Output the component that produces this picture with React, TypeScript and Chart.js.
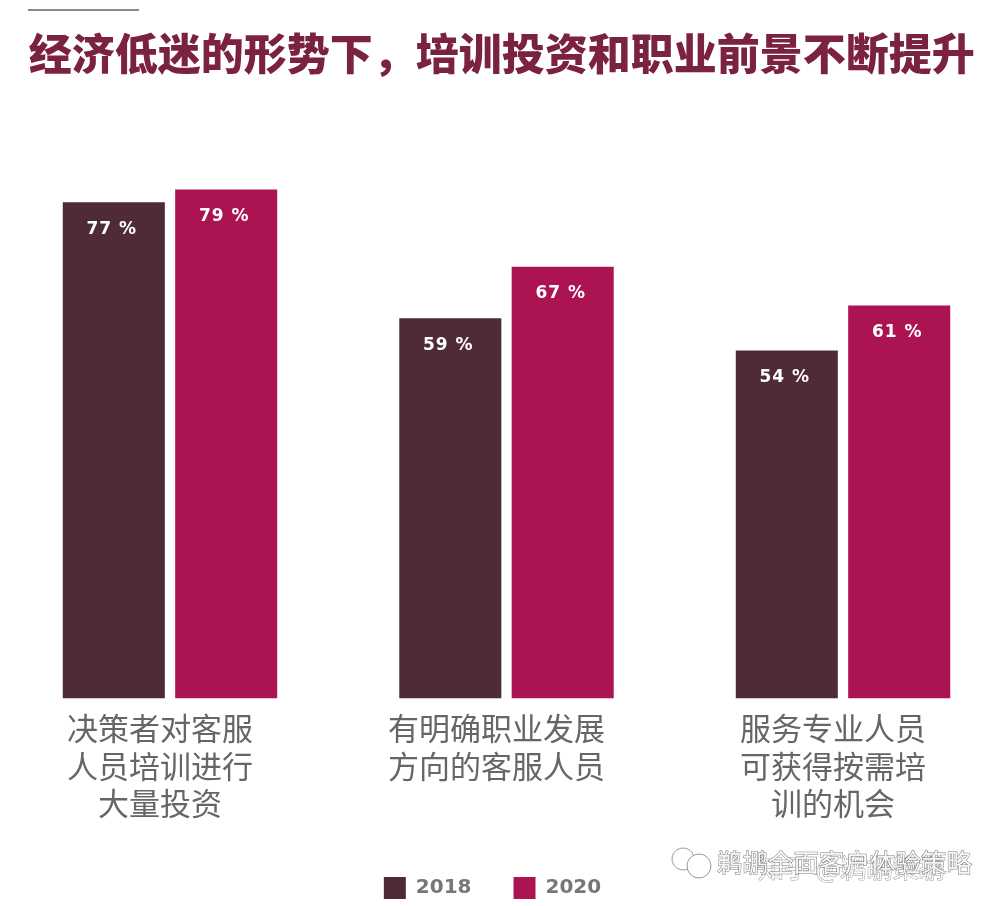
import React, { useEffect, useRef } from "react";
import { Chart, registerables } from "chart.js";

Chart.register(...registerables);

const TITLE = "经济低迷的形势下，培训投资和职业前景不断提升";
const categories = [
  ["决策者对客服", "人员培训进行", "大量投资"],
  ["有明确职业发展", "方向的客服人员"],
  ["服务专业人员", "可获得按需培", "训的机会"],
];
const values2018 = [77, 59, 54];
const values2020 = [79, 67, 61];
const WATERMARK_TOP = "鹈鹕全面客户体验策略";
const WATERMARK_BOTTOM = "知乎 @鹈鹕策鹕";
const CJK = '"Noto Sans CJK SC", sans-serif';

const valueLabels = {
  id: "valueLabels",
  afterDatasetsDraw(chart: any) {
    const { ctx } = chart;
    ctx.save();
    ctx.fillStyle = "#ffffff";
    ctx.font = 'bold 17px "DejaVu Sans", sans-serif';
    ctx.letterSpacing = "1px";
    ctx.textAlign = "center";
    ctx.textBaseline = "middle";
    chart.data.datasets.forEach((ds: any, i: number) => {
      chart.getDatasetMeta(i).data.forEach((bar: any, j: number) => {
        ctx.fillText(`${ds.data[j]} %`, bar.x - 2, bar.y + 27);
      });
    });
    ctx.restore();
  },
};

const boxShift = {
  id: "boxShift",
  afterLayout(chart: any) {
    chart.legend.left -= 14;
    chart.legend.right -= 14;
    chart.legend.top += 10;
    chart.legend.bottom += 10;
    chart.titleBlock.left += 27;
    chart.titleBlock.right += 27;
  },
};

const watermark = {
  id: "watermark",
  afterDraw(chart: any) {
    const { ctx } = chart;
    ctx.save();
    ctx.textBaseline = "middle";
    ctx.textAlign = "left";
    ctx.lineWidth = 1;
    ctx.font = `26px ${CJK}`;
    ctx.strokeStyle = "rgba(90,90,90,0.6)";
    ctx.fillStyle = "rgba(255,255,255,0.9)";
    ctx.strokeText(WATERMARK_BOTTOM, 758, 868);
    ctx.fillText(WATERMARK_BOTTOM, 758, 868);
    ctx.font = `25.5px ${CJK}`;
    ctx.strokeStyle = "rgba(70,70,70,0.7)";
    ctx.strokeText(WATERMARK_TOP, 717, 862);
    ctx.fillText(WATERMARK_TOP, 717, 862);
    ctx.strokeStyle = "rgba(130,130,130,0.8)";
    ctx.lineWidth = 1;
    ctx.beginPath();
    ctx.arc(683, 859, 11, 0.2, Math.PI * 1.9);
    ctx.stroke();
    ctx.beginPath();
    ctx.arc(699, 866, 12, 0, Math.PI * 2);
    ctx.fill();
    ctx.stroke();
    ctx.restore();
  },
};

export default function App() {
  const ref = useRef<HTMLCanvasElement>(null);
  useEffect(() => {
    document.body.style.margin = "0";
    const chart = new Chart(ref.current as HTMLCanvasElement, {
      type: "bar",
      data: {
        labels: categories,
        datasets: [
          { label: "2018", data: values2018, backgroundColor: "#4f2b36" },
          { label: "2020", data: values2020, backgroundColor: "#ab1353" },
        ],
      },
      options: {
        responsive: false,
        animation: false,
        categoryPercentage: 0.668,
        barPercentage: 0.908,
        layout: { padding: { left: 1.75, right: 8.75, top: 0, bottom: 7 } },
        scales: {
          x: {
            grid: { display: false },
            border: { display: false },
            ticks: {
              color: "#666666",
              font: { family: CJK, size: 31, lineHeight: 1.21 },
              padding: 3,
              labelOffset: -10,
              maxRotation: 0,
              autoSkip: false,
            },
          },
          y: { min: 0, max: 90, display: false },
        },
        plugins: {
          tooltip: { enabled: false },
          title: {
            display: true,
            text: TITLE,
            align: "start",
            color: "#7b2241",
            font: { family: CJK, size: 43, weight: "900", lineHeight: 1.2 },
            padding: { top: 28, bottom: 39 },
          },
          legend: {
            position: "bottom",
            labels: {
              boxWidth: 22,
              boxHeight: 22,
              padding: 42,
              color: "#77767a",
              font: { family: '"DejaVu Sans", sans-serif', size: 20, weight: "bold" },
            },
          },
        },
      },
      plugins: [valueLabels, boxShift, watermark],
    } as any);
    return () => chart.destroy();
  }, []);
  return (
    <div style={{ position: "relative", width: 1000, height: 906, overflow: "hidden", background: "#fff" }}>
      <canvas ref={ref} width={1020} height={906} style={{ display: "block" }} />
      <div style={{ position: "absolute", left: 28, top: 9, width: 111, height: 2, background: "#8a8a8a" }} />
    </div>
  );
}
